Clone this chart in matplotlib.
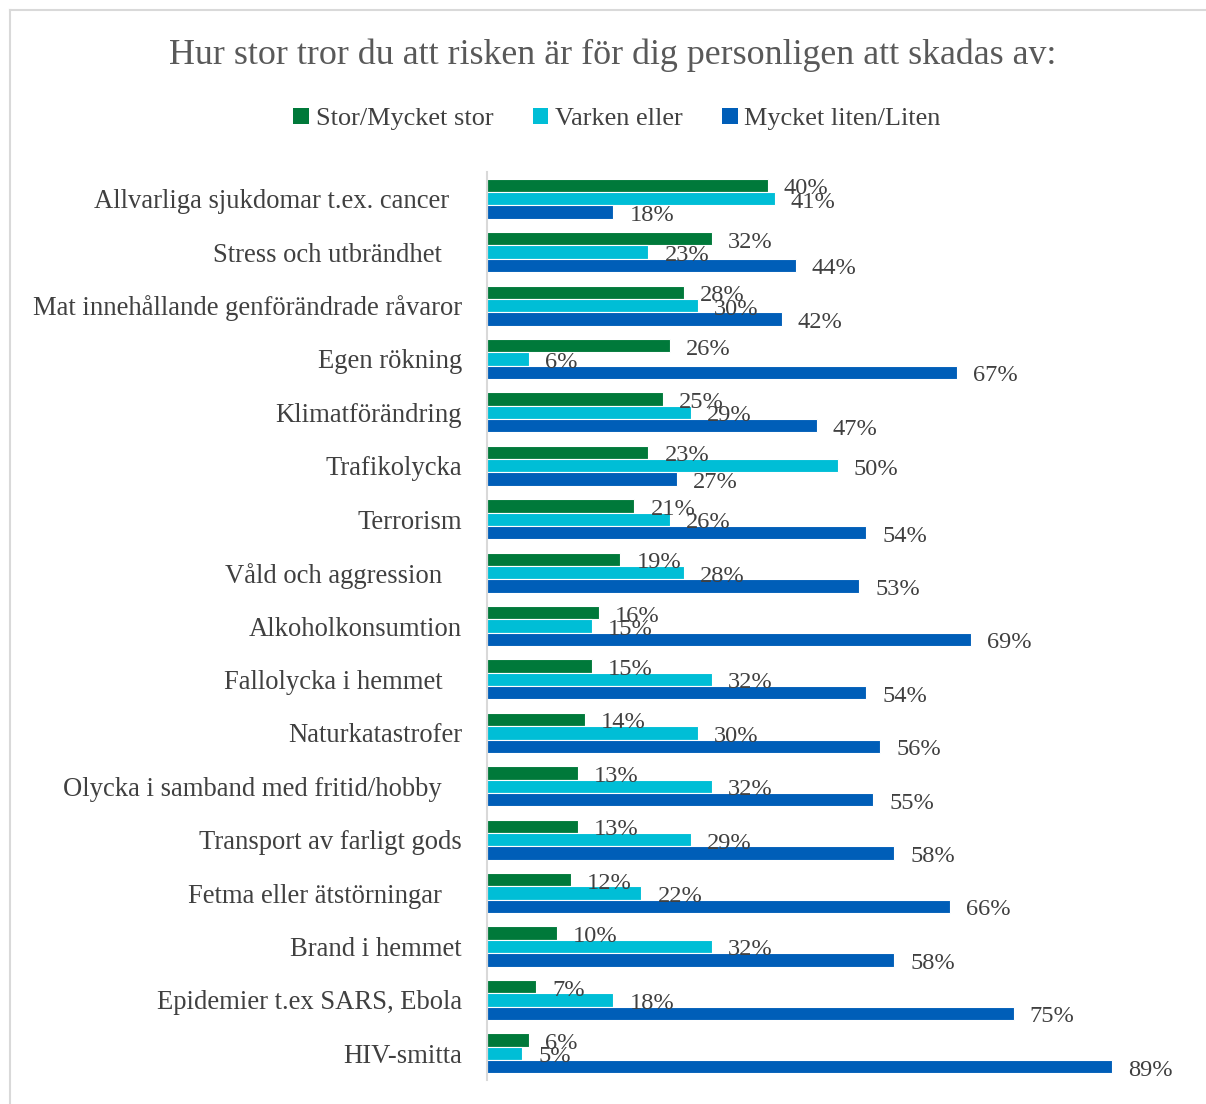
import matplotlib
matplotlib.use("Agg")
import matplotlib.pyplot as plt
from matplotlib.patches import Patch
from matplotlib.lines import Line2D
import numpy as np

plt.rcParams['font.family'] = ['Liberation Serif', 'DejaVu Serif']

categories = [
    "Allvarliga sjukdomar t.ex. cancer  ",
    "Stress och utbrändhet   ",
    "Mat innehållande genförändrade råvaror",
    "Egen rökning",
    "Klimatförändring",
    "Trafikolycka",
    "Terrorism",
    "Våld och aggression   ",
    "Alkoholkonsumtion",
    "Fallolycka i hemmet   ",
    "Naturkatastrofer",
    "Olycka i samband med fritid/hobby   ",
    "Transport av farligt gods",
    "Fetma eller ätstörningar   ",
    "Brand i hemmet",
    "Epidemier t.ex SARS, Ebola",
    "HIV-smitta",
]
series_names = ["Stor/Mycket stor", "Varken eller", "Mycket liten/Liten"]
stor = [40, 32, 28, 26, 25, 23, 21, 19, 16, 15, 14, 13, 13, 12, 10, 7, 6]
varken = [41, 23, 30, 6, 29, 50, 26, 28, 15, 32, 30, 32, 29, 22, 32, 18, 5]
liten = [18, 44, 42, 67, 47, 27, 54, 53, 69, 54, 56, 55, 58, 66, 58, 75, 89]
colors = ["#00793A", "#00BED6", "#005EB8"]

title = "Hur stor tror du att risken är för dig personligen att skadas av:"

W, H = 1206, 1104
fig = plt.figure(figsize=(W / 100, H / 100), dpi=100)
ax = fig.add_axes([487 / W, 1 - 1080 / H, (1189 - 487) / W, (1080 - 172) / H])

y = np.arange(len(categories))
bh = 0.25
for k, (vals, col, name) in enumerate(zip([stor, varken, liten], colors, series_names)):
    pos = y + (k - 1) * bh
    ax.barh(pos, vals, height=bh, color=col, edgecolor="white", linewidth=0.8, label=name)
    for p, v in zip(pos, vals):
        ax.annotate(f"{v}%", xy=(v, p), xytext=(11.5, -2.5), textcoords="offset points",
                    ha="left", va="center", fontsize=17.6, color="#404040")

ax.set_xlim(0, 100)
ax.set_ylim(len(categories) - 0.5, -0.5)
ax.set_yticks(y)
ax.set_yticklabels(categories, fontsize=19.2, color="#404040")
ax.tick_params(axis="y", length=0, pad=18)
ax.set_xticks([])
for s in ["top", "right", "bottom"]:
    ax.spines[s].set_visible(False)
ax.spines["left"].set_color("#d9d9d9")
ax.spines["left"].set_linewidth(1.5)

fig.text(613 / W, 1 - 55 / H, title, ha="center", va="center", fontsize=25.8, color="#595959")

handles = [Patch(facecolor=c, edgecolor="none") for c in colors]
fig.legend(handles, series_names, loc="center", bbox_to_anchor=(617 / W, 1 - 119 / H),
           ncol=3, frameon=False, fontsize=18.9, handlelength=0.6, handleheight=0.6,
           handletextpad=0.25, columnspacing=1.5, labelcolor="#404040")

# outer frame lines
fig.add_artist(Line2D([10 / W, 10 / W], [0, 1 - 10 / H], transform=fig.transFigure,
                      color="#d9d9d9", linewidth=1.5))
fig.add_artist(Line2D([10 / W, 1], [1 - 10 / H, 1 - 10 / H], transform=fig.transFigure,
                      color="#d9d9d9", linewidth=1.5))

fig.savefig("out.png", dpi=100, facecolor="white")
